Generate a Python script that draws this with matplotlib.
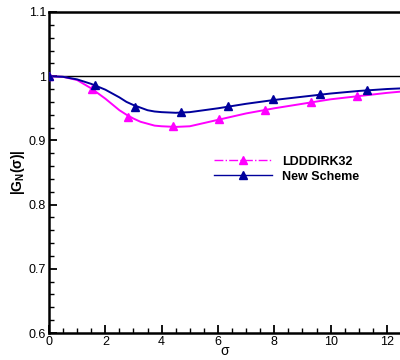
import numpy as np
import matplotlib
matplotlib.use("Agg")
import matplotlib.pyplot as plt
from matplotlib.lines import Line2D
from matplotlib.ticker import MultipleLocator

plt.rcParams["font.family"] = ["Liberation Sans", "DejaVu Sans"]
plt.rcParams["mathtext.fontset"] = "custom"
plt.rcParams["mathtext.bf"] = "Liberation Sans:bold"
plt.rcParams["mathtext.rm"] = "Liberation Sans"

# curves
sigma = [0, 0.5, 1, 1.5, 2, 2.25, 2.5, 2.75, 3, 3.25, 3.5, 3.75, 4, 4.5, 5,
         6, 7, 8, 9, 10, 11, 12, 12.5]
g_new = [1.0, 0.999, 0.995, 0.988, 0.979, 0.973, 0.967, 0.960, 0.955, 0.951,
         0.947, 0.945, 0.944, 0.943, 0.944, 0.950, 0.957, 0.963, 0.968, 0.973,
         0.977, 0.980, 0.981]
g_lddd = [1.0, 0.999, 0.994, 0.981, 0.965, 0.956, 0.947, 0.940, 0.934, 0.929,
          0.926, 0.923, 0.922, 0.921, 0.922, 0.932, 0.942, 0.950, 0.957, 0.964,
          0.969, 0.974, 0.976]

# symbol positions
mk_new_x = [0, 1.63, 3.06, 4.68, 6.34, 7.97, 9.63, 11.29]
mk_new_y = [1.0, 0.986, 0.952, 0.944, 0.954, 0.964, 0.973, 0.979]
mk_lddd_x = [0, 1.52, 2.80, 4.40, 6.04, 7.68, 9.32, 10.95]
mk_lddd_y = [1.0, 0.980, 0.937, 0.922, 0.934, 0.948, 0.960, 0.969]

labels = ["LDDDIRK32", "New Scheme"]

c_lddd = "#ff00ff"
c_new = "#00009c"

fig = plt.figure(figsize=(4, 3.6), dpi=100)
ax = fig.add_axes([0.1225, 0.075, 0.88, 0.8917])

ax.axhline(1.0, color="black", lw=1.0, zorder=1)

ax.plot(sigma, g_lddd, color=c_lddd, lw=1.4, zorder=2)
ax.plot(mk_lddd_x, mk_lddd_y, ls="none", marker="^", ms=5.5, color=c_lddd, zorder=3)
ax.plot(sigma, g_new, color=c_new, lw=1.4, zorder=2)
ax.plot(mk_new_x, mk_new_y, ls="none", marker="^", ms=5.5, color=c_new, zorder=3)

ax.set_xlim(0, 12.5)
ax.set_ylim(0.6, 1.1)
ax.xaxis.set_major_locator(MultipleLocator(2))
ax.xaxis.set_minor_locator(MultipleLocator(0.5))
ax.yaxis.set_minor_locator(MultipleLocator(0.02))
ax.set_yticks([0.6, 0.7, 0.8, 0.9, 1.0, 1.1])
ax.set_yticklabels(["0.6", "0.7", "0.8", "0.9", "1", "1.1"])
ax.tick_params(which="major", direction="in", length=6, width=1.3, labelsize=9, pad=2)
ax.tick_params(which="minor", direction="in", length=3.5, width=1.0)
ax.tick_params(top=False, right=False, which="both")
for s in ax.spines.values():
    s.set_linewidth(1.8)

ax.set_xlabel("σ", fontsize=10, labelpad=-3)
ax.set_ylabel(r"$\mathbf{|G_N(\sigma)|}$", fontsize=10, labelpad=1)

handles = [
    Line2D([], [], color=c_lddd, lw=1.0, ls="-.", marker="^", ms=5.5),
    Line2D([], [], color=c_new, lw=1.0, ls="-", marker="^", ms=5.5),
]
ax.legend(handles, labels, loc="center left", bbox_to_anchor=(0.47, 0.51),
          frameon=False, handlelength=4.6, handletextpad=0.8, labelspacing=0.25,
          borderpad=0, borderaxespad=0, prop={"weight": "bold", "size": 9})

fig.savefig("out.png", dpi=100)
